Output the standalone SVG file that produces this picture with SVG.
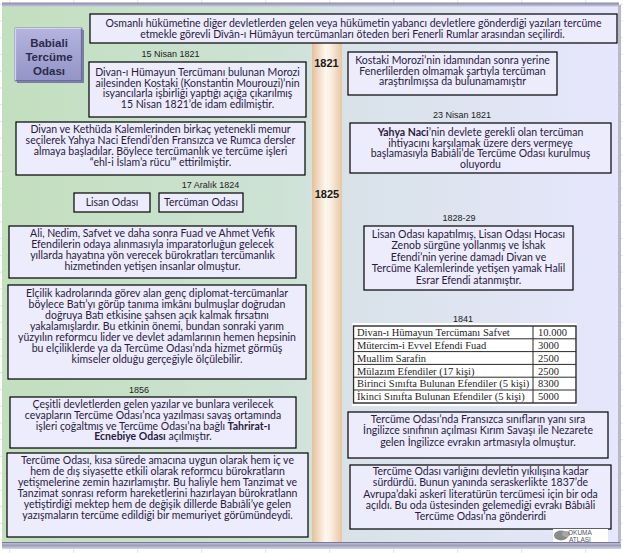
<svg xmlns="http://www.w3.org/2000/svg" width="623" height="553" viewBox="0 0 623 553">
<defs>
<linearGradient id="panel" x1="0" y1="0" x2="1" y2="0">
<stop offset="0" stop-color="#c2dfbe"/>
<stop offset="0.45" stop-color="#cde2d4"/>
<stop offset="0.56" stop-color="#d8e2e8"/>
<stop offset="1" stop-color="#e6e6fc"/>
</linearGradient>
<linearGradient id="bar" x1="0" y1="0" x2="1" y2="0">
<stop offset="0" stop-color="#e6c098"/>
<stop offset="0.45" stop-color="#fdf7f0"/>
<stop offset="0.6" stop-color="#fbf0e4"/>
<stop offset="1" stop-color="#e8c6a2"/>
</linearGradient>
<linearGradient id="title" x1="0" y1="0" x2="0" y2="1">
<stop offset="0" stop-color="#b4b4de"/>
<stop offset="1" stop-color="#9494c6"/>
</linearGradient>
<linearGradient id="topbar" x1="0" y1="0" x2="0" y2="1">
<stop offset="0" stop-color="#8a8aa8"/>
<stop offset="1" stop-color="#c4c4e0"/>
</linearGradient>
<linearGradient id="botbar" x1="0" y1="0" x2="0" y2="1">
<stop offset="0" stop-color="#c8c8e2"/>
<stop offset="0.5" stop-color="#9e9eba"/>
<stop offset="1" stop-color="#d6d6e6"/>
</linearGradient>
<pattern id="grid" x="0" y="3.7" width="64" height="16.75" patternUnits="userSpaceOnUse">
<path d="M0 0.5H64" stroke="#e2e2e2" stroke-width="1" fill="none"/>
<path d="M9.7 0V16.75" stroke="#e2e2e2" stroke-width="1" fill="none"/>
</pattern>
<style>
.box{fill:#ececfc;stroke:#000;stroke-width:1.2}
.t{font-family:Lato,"Liberation Sans",sans-serif;font-size:10.5px;fill:#2a1a42;text-anchor:middle}
.d{font-family:"Liberation Sans",Arial,sans-serif;font-size:9px;fill:#222;text-anchor:middle}
.yr{font-family:"Liberation Sans",Arial,sans-serif;font-weight:bold;font-size:11px;fill:#1a1a1a;text-anchor:middle}
.tb{font-family:"Liberation Serif","Times New Roman",serif;font-size:10.5px;fill:#1e1e1e}
.tl{font-family:"Liberation Sans",Arial,sans-serif;font-weight:bold;font-size:11.5px;fill:#2a2a4a;text-anchor:middle}
.b{font-weight:bold}
.rule{stroke:#2a2a2a;stroke-width:1;fill:none}
</style>
</defs>

<rect width="623" height="553" fill="#ffffff"/>
<rect width="623" height="553" fill="url(#grid)"/>

<g id="panel-bg">
<rect x="2" y="6" width="616" height="537" fill="url(#panel)"/>
<rect x="2" y="2.5" width="617" height="4" fill="url(#topbar)"/>
<rect x="618" y="5" width="3" height="540" fill="#b8b8c8"/>
<rect x="2" y="542" width="619" height="7" fill="url(#botbar)"/>
<line x1="2" y1="542.5" x2="620" y2="542.5" stroke="#7a7a96" stroke-width="1"/>
</g>

<g id="timeline">
<rect x="312" y="43" width="30" height="499" fill="url(#bar)"/>
<text class="yr" x="326.5" y="67">1821</text>
<text class="yr" x="327" y="198">1825</text>
</g>

<g id="title-node">
<rect x="17" y="30" width="67" height="53" fill="#7a7aa8"/>
<rect x="15" y="28" width="67" height="53" fill="url(#title)" stroke="#8686b4" stroke-width="1"/>
<path d="M15.5 80.5V28.5H81.5" stroke="#d4d4f0" stroke-width="1.2" fill="none"/>
<path d="M15.5 80.5H81.5V28.5" stroke="#6c6c9c" stroke-width="1.2" fill="none"/>
<text class="tl" x="49" y="47">Babiali</text>
<text class="tl" x="49" y="61">Tercüme</text>
<text class="tl" x="49" y="74.5">Odası</text>
</g>

<g id="intro">
<rect class="box" x="90" y="14" width="527" height="29"/>
<text class="t" x="353.5" y="26.5">Osmanlı hükümetine diğer devletlerden gelen veya hükümetin yabancı devletlere gönderdiği yazıları tercüme</text>
<text class="t" x="352.5" y="37.5">etmekle görevli Dîvân-ı Hümâyun tercümanları öteden beri Fenerli Rumlar arasından seçilirdi.</text>
</g>

<g id="n-1821-morozi">
<text class="d" x="170.5" y="57">15 Nisan 1821</text>
<rect class="box" x="89" y="62" width="217" height="55"/>
<text class="t" x="197.5" y="76">Divan-ı Hümayun Tercümanı bulunan Morozi</text>
<text class="t" x="197.5" y="86.7">ailesinden Kostaki (Konstantin Mourouzi)’nin</text>
<text class="t" x="197.5" y="97.4">isyancılarla işbirliği yaptığı açığa çıkarılmış</text>
<text class="t" x="197.5" y="108.1">15 Nisan 1821’de idam edilmiştir.</text>
</g>

<g id="n-kostaki">
<rect class="box" x="348" y="52" width="209" height="43"/>
<text class="t" x="452.5" y="64">Kostaki Morozi’nin idamından sonra yerine</text>
<text class="t" x="452.5" y="74.7">Fenerlilerden olmamak şartıyla tercüman</text>
<text class="t" x="452.5" y="85.4">araştırılmışsa da bulunamamıştır</text>
</g>

<g id="n-yahya">
<text class="d" x="462" y="118">23 Nisan 1821</text>
<rect class="box" x="350" y="123" width="261" height="50"/>
<text class="t" x="480.5" y="136"><tspan class="b">Yahya Naci</tspan>’nin  devlete gerekli olan tercüman</text>
<text class="t" x="480.5" y="146.7">ihtiyacını karşılamak üzere ders vermeye</text>
<text class="t" x="480.5" y="157.4">başlamasıyla Babıâli’de Tercüme Odası kurulmuş</text>
<text class="t" x="480.5" y="168.1">oluyordu</text>
</g>

<g id="n-kethuda">
<rect class="box" x="16" y="122" width="289" height="53"/>
<text class="t" x="160.5" y="133.3">Divan ve Kethüda Kalemlerinden birkaç yetenekli memur</text>
<text class="t" x="160.5" y="144.1">seçilerek Yahya Naci Efendi’den Fransızca ve Rumca dersler</text>
<text class="t" x="160.5" y="154.9">almaya başladılar. Böylece tercümanlık ve tercüme işleri</text>
<text class="t" x="160.5" y="165.7">“ehl-i İslam’a rücu’” ettirilmiştir.</text>
</g>

<g id="n-1824">
<text class="d" x="210.5" y="188.3">17 Aralık 1824</text>
</g>

<g id="n-lisan">
<rect class="box" x="74" y="193" width="76" height="19"/>
<text class="t" x="112" y="206">Lisan Odası</text>
</g>

<g id="n-tercuman">
<rect class="box" x="159" y="193" width="84" height="19"/>
<text class="t" x="201" y="206">Tercüman Odası</text>
</g>

<g id="n-1828">
<text class="d" x="459" y="220.7">1828-29</text>
<rect class="box" x="364" y="226" width="209" height="64"/>
<text class="t" x="468.5" y="238">Lisan Odası kapatılmış, Lisan Odası Hocası</text>
<text class="t" x="468.5" y="249.4">Zenob sürgüne yollanmış ve İshak</text>
<text class="t" x="468.5" y="260.8">Efendi’nin yerine damadı Divan ve</text>
<text class="t" x="468.5" y="272.2">Tercüme Kalemlerinde yetişen yamak Halil</text>
<text class="t" x="468.5" y="283.6">Esrar Efendi atanmıştır.</text>
</g>

<g id="n-ali">
<rect class="box" x="9" y="226" width="287" height="52"/>
<text class="t" x="152.5" y="237.3">Ali, Nedim, Safvet ve daha sonra Fuad ve Ahmet Vefik</text>
<text class="t" x="152.5" y="248.2">Efendilerin odaya alınmasıyla imparatorluğun gelecek</text>
<text class="t" x="152.5" y="259.1">yıllarda hayatına yön verecek bürokratları tercümanlık</text>
<text class="t" x="152.5" y="270">hizmetinden yetişen insanlar olmuştur.</text>
</g>

<g id="n-elcilik">
<rect class="box" x="8" y="285" width="298" height="94"/>
<text class="t" x="157" y="296.7">Elçilik kadrolarında görev alan genç diplomat-tercümanlar</text>
<text class="t" x="157" y="307.8">böylece Batı’yı görüp tanıma imkânı bulmuşlar doğrudan</text>
<text class="t" x="157" y="318.9">doğruya Batı etkisine şahsen açık kalmak fırsatını</text>
<text class="t" x="157" y="330">yakalamışlardır. Bu etkinin önemi, bundan sonraki yarım</text>
<text class="t" x="157" y="341.1">yüzyılın reformcu lider ve devlet adamlarının hemen hepsinin</text>
<text class="t" x="157" y="352.2">bu elçiliklerde ya da Tercüme Odası’nda hizmet görmüş</text>
<text class="t" x="157" y="363.3">kimseler olduğu gerçeğiyle ölçülebilir.</text>
</g>

<g id="n-1841">
<text class="d" x="463" y="322">1841</text>
<rect x="352" y="323" width="225" height="83" fill="#ffffff"/>
<rect x="353.5" y="326" width="222.5" height="77" fill="#ffffff" stroke="#2a2a2a" stroke-width="1.4"/>
<path class="rule" d="M353.5 338.8H576M353.5 351.6H576M353.5 364.4H576M353.5 377.2H576M353.5 390H576M533 326V403"/>
<text class="tb" x="357" y="336">Divan-ı Hümayun Tercümanı Safvet</text>
<text class="tb" x="357" y="349">Mütercim-i Evvel Efendi Fuad</text>
<text class="tb" x="357" y="361.7">Muallim Sarafin</text>
<text class="tb" x="357" y="374.5">Mülazım Efendiler (17 kişi)</text>
<text class="tb" x="357" y="387.3">Birinci Sınıfta Bulunan Efendiler (5 kişi)</text>
<text class="tb" x="357" y="400.1">İkinci Sınıfta Bulunan Efendiler (5 kişi)</text>
<text class="tb" x="538" y="336">10.000</text>
<text class="tb" x="538" y="349">3000</text>
<text class="tb" x="538" y="361.7">2500</text>
<text class="tb" x="538" y="374.5">2500</text>
<text class="tb" x="538" y="387.3">8300</text>
<text class="tb" x="538" y="400.1">5000</text>
</g>

<g id="n-ingilizce">
<rect class="box" x="348" y="412" width="260" height="46"/>
<text class="t" x="478" y="422.7">Tercüme Odası’nda Fransızca sınıfların yanı sıra</text>
<text class="t" x="478" y="434.2">İngilizce sınıfının açılması Kırım Savaşı ile Nezarete</text>
<text class="t" x="478" y="445.7">gelen İngilizce evrakın artmasıyla olmuştur.</text>
</g>

<g id="n-1856">
<text class="d" x="139" y="393.3">1856</text>
<rect class="box" x="10" y="397" width="286" height="51"/>
<text class="t" x="153" y="407.7">Çeşitli devletlerden gelen yazılar ve bunlara verilecek</text>
<text class="t" x="153" y="418.6">cevapların Tercüme Odası’nca yazılması savaş ortamında</text>
<text class="t" x="153" y="429.5">işleri çoğaltmış ve Tercüme Odası’na bağlı <tspan class="b">Tahrirat-ı</tspan></text>
<text class="t" x="153" y="440.4"><tspan class="b">Ecnebiye  Odası</tspan>  açılmıştır.</text>
</g>

<g id="n-sonuc">
<rect class="box" x="7" y="453" width="301" height="84"/>
<text class="t" x="157.5" y="464">Tercüme Odası, kısa sürede amacına uygun olarak hem iç ve</text>
<text class="t" x="157.5" y="475">hem de dış siyasette etkili olarak reformcu bürokratların</text>
<text class="t" x="157.5" y="486">yetişmelerine zemin hazırlamıştır. Bu haliyle hem Tanzimat ve</text>
<text class="t" x="157.5" y="497">Tanzimat sonrası reform hareketlerini hazırlayan bürokratlann</text>
<text class="t" x="157.5" y="508">yetiştirdiği mektep hem de değişik dillerde Babıâli’ye gelen</text>
<text class="t" x="157.5" y="519">yazışmaların tercüme edildiği bir memuriyet görümündeydi.</text>
</g>

<g id="n-varlik">
<rect class="box" x="350" y="465" width="261" height="64"/>
<text class="t" x="480.5" y="475">Tercüme Odası varlığını devletin yıkılışına kadar</text>
<text class="t" x="480.5" y="486.3">sürdürdü. Bunun yanında seraskerlikte 1837’de</text>
<text class="t" x="480.5" y="497.6">Avrupa’daki askerî literatürün tercümesi için bir oda</text>
<text class="t" x="480.5" y="508.9">açıldı. Bu oda üstesinden gelemediği evrakı Bâbıâli</text>
<text class="t" x="480.5" y="520.2">Tercüme Odası’na gönderirdi</text>
</g>

<g id="logo">
<rect x="553" y="529" width="55" height="13" fill="#ffffff"/>
<ellipse cx="561" cy="535.5" rx="7" ry="5" fill="#8a8a8a"/>
<ellipse cx="566" cy="534" rx="4" ry="3" fill="#a8a8a8"/>
<text x="568" y="535" font-family="'Liberation Sans',Arial,sans-serif" font-size="6.5" fill="#555">OKUMA</text>
<text x="569" y="541.5" font-family="'Liberation Sans',Arial,sans-serif" font-size="6.5" fill="#555">ATLASI</text>
</g>
</svg>
